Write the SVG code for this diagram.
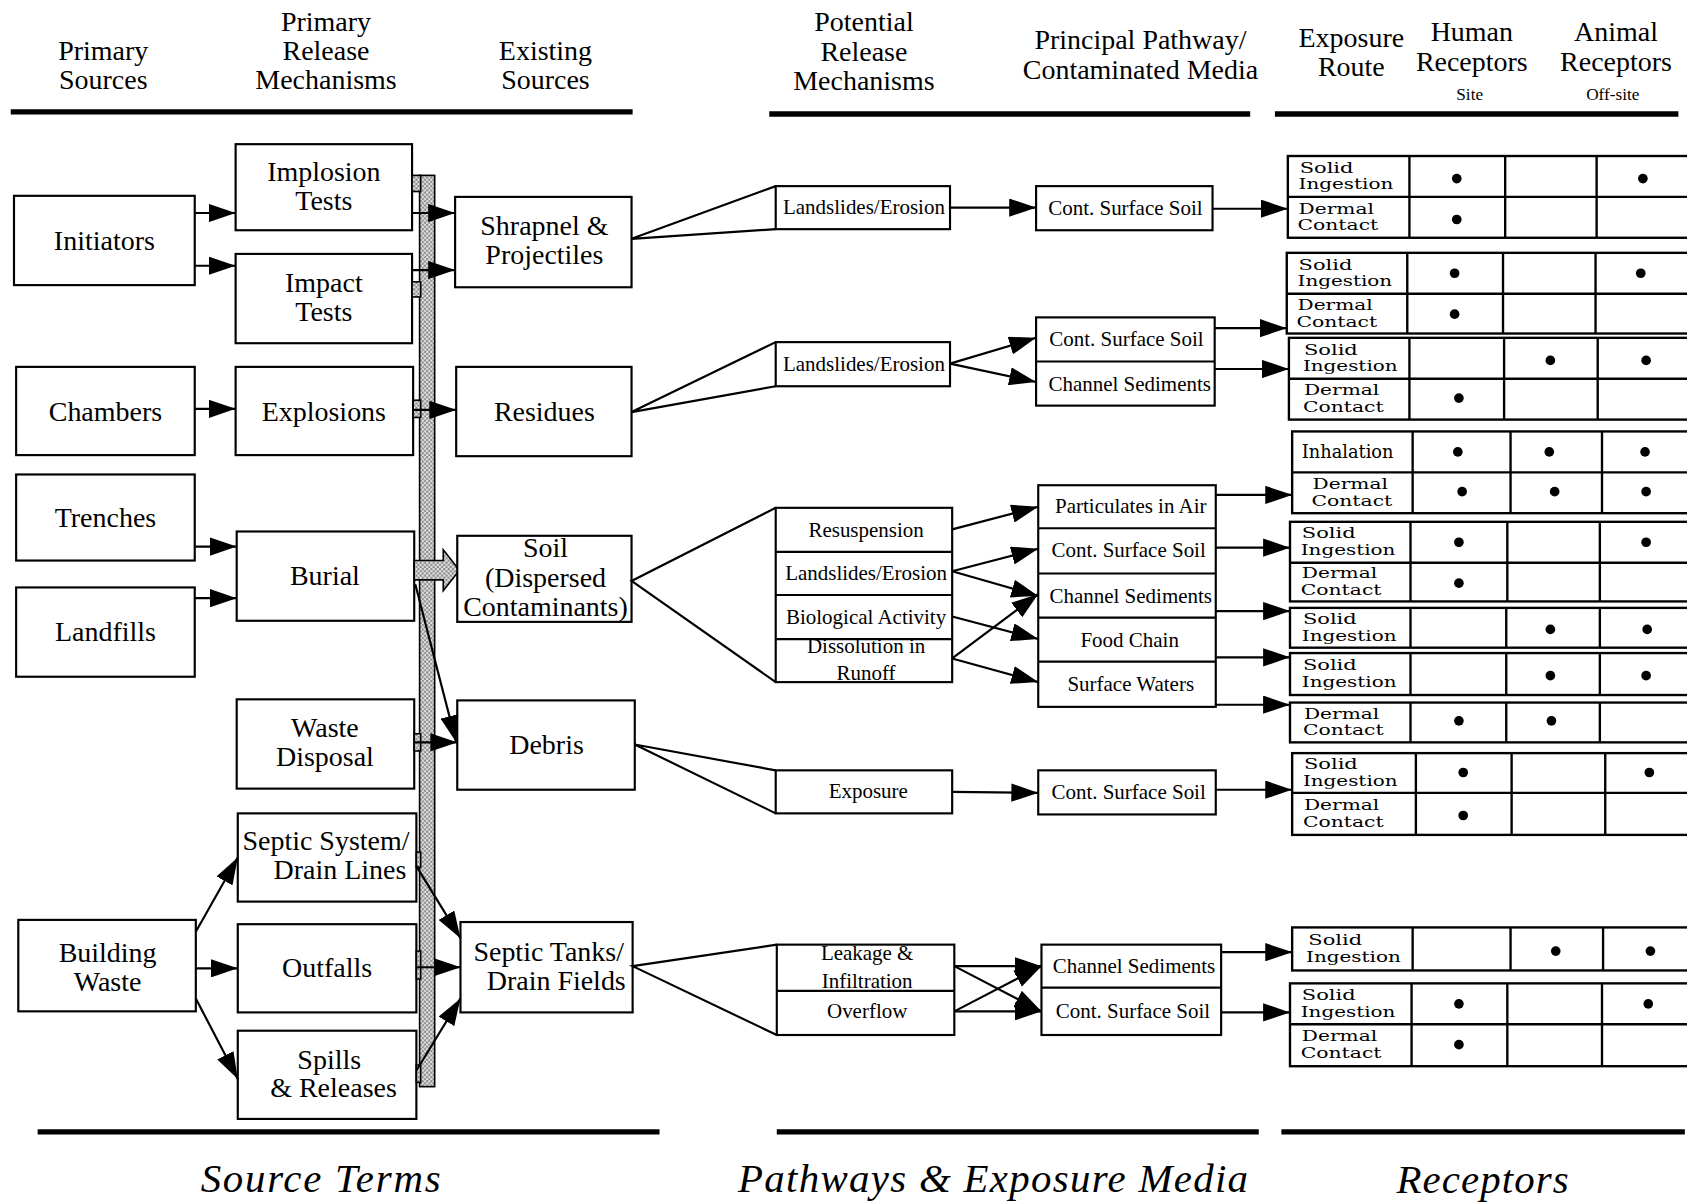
<svg xmlns="http://www.w3.org/2000/svg" width="1687" height="1202" viewBox="0 0 1687 1202">
<defs>
<style>
.b{fill:#fff;stroke:#000;stroke-width:2}
.t{font-family:"Liberation Serif","Times New Roman",serif;font-size:26px;text-anchor:middle;fill:#000}
.m{font-size:19.5px}
.sm{font-size:16px}
.r{font-family:"DejaVu Serif",serif;font-size:16.5px;fill:#000}
.q{font-family:"DejaVu Serif",serif;font-size:13.5px;fill:#000}
.l{stroke:#000;stroke-width:2;fill:none}
.a{marker-end:url(#ah)}
.k{stroke:#000;stroke-width:5}
.g{fill:none;stroke:#000;stroke-width:2.2}
.it{font-family:"Liberation Serif","Times New Roman",serif;font-style:italic;font-size:38px;text-anchor:middle;fill:#000}
.st{fill:url(#stip);stroke:#000;stroke-width:1.5}
.d{fill:#000}
</style>
<marker id="ah" markerUnits="userSpaceOnUse" markerWidth="25" markerHeight="17" refX="25" refY="8.5" orient="auto" viewBox="0 0 25 17"><path d="M0,0 L25,8.5 L0,17 z" fill="#000"/></marker>
<pattern id="stip" width="4" height="4" patternUnits="userSpaceOnUse"><rect width="4" height="4" fill="#e4e4e4"/><rect width="2" height="2" fill="#8a8a8a"/><rect x="2" y="2" width="2" height="2" fill="#8a8a8a"/></pattern>
</defs>
<rect width="1687" height="1202" fill="#fff"/>
<g transform="scale(1.075893)">

<g id="headers">
<text class="t" x="96" y="56">Primary</text><text class="t" x="96" y="83">Sources</text>
<text class="t" x="303" y="29">Primary</text><text class="t" x="303" y="56">Release</text><text class="t" x="303" y="83">Mechanisms</text>
<text class="t" x="507" y="56">Existing</text><text class="t" x="507" y="83">Sources</text>
<text class="t" x="803" y="29">Potential</text><text class="t" x="803" y="57">Release</text><text class="t" x="803" y="84">Mechanisms</text>
<text class="t" x="1060" y="46">Principal Pathway/</text><text class="t" x="1060" y="73">Contaminated Media</text>
<text class="t" x="1256" y="44">Exposure</text><text class="t" x="1256" y="71">Route</text>
<text class="t" x="1368" y="38">Human</text><text class="t" x="1368" y="66">Receptors</text><text class="t sm" x="1366" y="93">Site</text>
<text class="t" x="1502" y="38">Animal</text><text class="t" x="1502" y="66">Receptors</text><text class="t sm" x="1499" y="93">Off-site</text>
<line class="k" x1="10" y1="104" x2="588" y2="104"/>
<line class="k" x1="715" y1="106" x2="1162" y2="106"/>
<line class="k" x1="1185" y1="106" x2="1560" y2="106"/>
<line class="k" x1="35" y1="1052" x2="613" y2="1052"/>
<line class="k" x1="722" y1="1052" x2="1170" y2="1052"/>
<line class="k" x1="1191" y1="1052" x2="1566" y2="1052"/>
<text class="it" x="298" y="1108" textLength="223" lengthAdjust="spacing">Source Terms</text>
<text class="it" x="923" y="1108" textLength="474" lengthAdjust="spacing">Pathways &amp; Exposure Media</text>
<text class="it" x="1378" y="1109" textLength="160" lengthAdjust="spacing">Receptors</text>
</g>

<g id="n-initiators"><rect class="b" x="13" y="182" width="168" height="83"/><text class="t" x="97" y="232">Initiators</text></g>
<g id="n-implosion"><rect class="b" x="219" y="134" width="164" height="80"/><text class="t" x="301" y="168">Implosion</text><text class="t" x="301" y="195">Tests</text></g>
<g id="n-impact"><rect class="b" x="219" y="236" width="164" height="83"/><text class="t" x="301" y="271">Impact</text><text class="t" x="301" y="298">Tests</text></g>
<g id="n-chambers"><rect class="b" x="15" y="341" width="166" height="82"/><text class="t" x="98" y="391">Chambers</text></g>
<g id="n-explosions"><rect class="b" x="219" y="341" width="165" height="82"/><text class="t" x="301" y="391">Explosions</text></g>
<g id="n-trenches"><rect class="b" x="15" y="441" width="166" height="80"/><text class="t" x="98" y="490">Trenches</text></g>
<g id="n-landfills"><rect class="b" x="15" y="546" width="166" height="83"/><text class="t" x="98" y="596">Landfills</text></g>
<g id="n-burial"><rect class="b" x="220" y="494" width="165" height="83"/><text class="t" x="302" y="544">Burial</text></g>
<g id="n-waste"><rect class="b" x="220" y="650" width="165" height="83"/><text class="t" x="302" y="685">Waste</text><text class="t" x="302" y="712">Disposal</text></g>
<g id="n-septicsys"><rect class="b" x="221" y="756" width="166" height="82"/><text class="t" x="303" y="790">Septic System/</text><text class="t" x="316" y="817">Drain Lines</text></g>
<g id="n-outfalls"><rect class="b" x="221" y="859" width="166" height="82"/><text class="t" x="304" y="908">Outfalls</text></g>
<g id="n-spills"><rect class="b" x="221" y="958" width="166" height="82"/><text class="t" x="306" y="994">Spills</text><text class="t" x="310" y="1020">&amp; Releases</text></g>
<g id="n-building"><rect class="b" x="17" y="855" width="165" height="85"/><text class="t" x="100" y="894">Building</text><text class="t" x="100" y="921">Waste</text></g>

<g id="n-bar">
<rect class="st" x="390" y="163" width="14" height="847"/>
<rect class="st" x="383" y="163" width="8" height="15"/>
<rect class="st" x="383" y="262" width="8" height="14"/>
<rect class="st" x="384" y="372" width="7" height="16"/>
<rect class="st" x="385" y="682" width="6" height="16"/>
<rect class="st" x="387" y="792" width="4" height="14"/>
<rect class="st" x="387" y="884" width="4" height="26"/>
<rect class="st" x="387" y="990" width="4" height="16"/>
<polygon class="st" points="385,521 412,521 412,511 427,530 412,549 412,539 385,539"/>
</g>

<g id="n-shrapnel"><rect class="b" x="423" y="183" width="164" height="84"/><text class="t" x="506" y="218">Shrapnel &amp;</text><text class="t" x="506" y="245">Projectiles</text></g>
<g id="n-residues"><rect class="b" x="424" y="341" width="163" height="83"/><text class="t" x="506" y="391">Residues</text></g>
<g id="n-soil"><rect class="b" x="425" y="498" width="162" height="80"/><text class="t" x="507" y="518">Soil</text><text class="t" x="507" y="546">(Dispersed</text><text class="t" x="507" y="573">Contaminants)</text></g>
<g id="n-debris"><rect class="b" x="425" y="651" width="165" height="83"/><text class="t" x="508" y="701">Debris</text></g>
<g id="n-septictanks"><rect class="b" x="428" y="857" width="160" height="84"/><text class="t" x="510" y="893">Septic Tanks/</text><text class="t" x="517" y="920">Drain Fields</text></g>

<g id="n-le1"><rect class="b" x="721" y="173" width="162" height="40"/><text class="t m" x="803" y="199">Landslides/Erosion</text></g>
<g id="n-le2"><rect class="b" x="721" y="318" width="162" height="41"/><text class="t m" x="803" y="345">Landslides/Erosion</text></g>
<g id="n-mech3">
<rect class="b" x="721" y="472" width="164" height="162"/>
<line class="l" x1="721" y1="513" x2="885" y2="513"/><line class="l" x1="721" y1="553" x2="885" y2="553"/><line class="l" x1="721" y1="594" x2="885" y2="594"/>
<text class="t m" x="805" y="499">Resuspension</text>
<text class="t m" x="805" y="539">Landslides/Erosion</text>
<text class="t m" x="805" y="580">Biological Activity</text>
<text class="t m" x="805" y="607">Dissolution in</text>
<text class="t m" x="805" y="632">Runoff</text>
</g>
<g id="n-exposure"><rect class="b" x="721" y="716" width="164" height="40"/><text class="t m" x="807" y="742">Exposure</text></g>
<g id="n-mech5">
<rect class="b" x="722" y="878" width="165" height="84"/>
<line class="l" x1="722" y1="921" x2="887" y2="921"/>
<text class="t m" x="806" y="892">Leakage &amp;</text>
<text class="t m" x="806" y="918">Infiltration</text>
<text class="t m" x="806" y="946">Overflow</text>
</g>

<g id="n-css1"><rect class="b" x="963" y="173" width="164" height="41"/><text class="t m" x="1046" y="200">Cont. Surface Soil</text></g>
<g id="n-media2">
<rect class="b" x="963" y="295" width="166" height="82"/>
<line class="l" x1="963" y1="336" x2="1129" y2="336"/>
<text class="t m" x="1047" y="322">Cont. Surface Soil</text>
<text class="t m" x="1050" y="363">Channel Sediments</text>
</g>
<g id="n-media3">
<rect class="b" x="965" y="451" width="165" height="206"/>
<line class="l" x1="965" y1="491" x2="1130" y2="491"/><line class="l" x1="965" y1="533" x2="1130" y2="533"/><line class="l" x1="965" y1="574" x2="1130" y2="574"/><line class="l" x1="965" y1="615" x2="1130" y2="615"/>
<text class="t m" x="1051" y="477">Particulates in Air</text>
<text class="t m" x="1049" y="518">Cont. Surface Soil</text>
<text class="t m" x="1051" y="560">Channel Sediments</text>
<text class="t m" x="1050" y="601">Food Chain</text>
<text class="t m" x="1051" y="642">Surface Waters</text>
</g>
<g id="n-css4"><rect class="b" x="965" y="716" width="165" height="41"/><text class="t m" x="1049" y="743">Cont. Surface Soil</text></g>
<g id="n-media5">
<rect class="b" x="968" y="878" width="167" height="84"/>
<line class="l" x1="968" y1="918" x2="1135" y2="918"/>
<text class="t m" x="1054" y="904">Channel Sediments</text>
<text class="t m" x="1053" y="946">Cont. Surface Soil</text>
</g>

<g id="connectors">
<line class="l a" x1="181" y1="198" x2="219" y2="198"/>
<line class="l a" x1="181" y1="247" x2="219" y2="247"/>
<line class="l a" x1="181" y1="380" x2="219" y2="380"/>
<line class="l a" x1="181" y1="508" x2="220" y2="508"/>
<line class="l a" x1="181" y1="556" x2="220" y2="556"/>
<line class="l a" x1="182" y1="866" x2="221" y2="797"/>
<line class="l a" x1="182" y1="900" x2="221" y2="900"/>
<line class="l a" x1="182" y1="928" x2="221" y2="1003"/>
<line class="l a" x1="383" y1="198" x2="423" y2="198"/>
<line class="l a" x1="383" y1="251" x2="423" y2="251"/>
<line class="l a" x1="384" y1="381" x2="424" y2="381"/>
<line class="l a" x1="386" y1="543" x2="424" y2="690"/>
<line class="l a" x1="385" y1="690" x2="425" y2="690"/>
<line class="l a" x1="387" y1="805" x2="428" y2="872"/>
<line class="l a" x1="387" y1="899" x2="428" y2="899"/>
<line class="l a" x1="387" y1="995" x2="428" y2="928"/>
<polyline class="l" points="721,173 587,222 721,213"/>
<polyline class="l" points="721,318 587,383 721,359"/>
<polyline class="l" points="721,472 587,540 721,634"/>
<polyline class="l" points="721,716 590,692 721,756"/>
<polyline class="l" points="722,878 588,898 722,962"/>
<line class="l a" x1="883" y1="193" x2="963" y2="193"/>
<line class="l a" x1="883" y1="338" x2="963" y2="314"/>
<line class="l a" x1="883" y1="338" x2="963" y2="355"/>
<line class="l a" x1="885" y1="492" x2="965" y2="471"/>
<line class="l a" x1="885" y1="531" x2="965" y2="510"/>
<line class="l a" x1="885" y1="531" x2="965" y2="554"/>
<line class="l a" x1="885" y1="573" x2="965" y2="594"/>
<line class="l a" x1="885" y1="612" x2="965" y2="552"/>
<line class="l a" x1="885" y1="612" x2="965" y2="634"/>
<line class="l a" x1="885" y1="736" x2="965" y2="737"/>
<line class="l a" x1="887" y1="898" x2="968" y2="898"/>
<line class="l a" x1="887" y1="898" x2="968" y2="940"/>
<line class="l a" x1="887" y1="940" x2="968" y2="940"/>
<line class="l a" x1="887" y1="940" x2="968" y2="898"/>
<line class="l a" x1="1127" y1="194" x2="1197" y2="194"/>
<line class="l a" x1="1129" y1="305" x2="1196" y2="305"/>
<line class="l a" x1="1129" y1="343" x2="1198" y2="343"/>
<line class="l a" x1="1130" y1="460" x2="1201" y2="460"/>
<line class="l a" x1="1130" y1="509" x2="1199" y2="509"/>
<line class="l a" x1="1130" y1="568" x2="1199" y2="568"/>
<line class="l a" x1="1130" y1="611" x2="1199" y2="611"/>
<line class="l a" x1="1130" y1="655" x2="1199" y2="655"/>
<line class="l a" x1="1130" y1="734" x2="1201" y2="734"/>
<line class="l a" x1="1135" y1="885" x2="1201" y2="885"/>
<line class="l a" x1="1135" y1="941" x2="1199" y2="941"/>
</g>

<g id="t1">
<rect class="g" x="1197" y="145" width="383" height="76"/>
<line class="g" x1="1197" y1="183" x2="1580" y2="183"/>
<line class="g" x1="1310" y1="145" x2="1310" y2="221"/><line class="g" x1="1399" y1="145" x2="1399" y2="221"/><line class="g" x1="1484" y1="145" x2="1484" y2="221"/>
<text class="q" x="1208" y="160.5" textLength="50" lengthAdjust="spacingAndGlyphs">Solid</text><text class="q" x="1207" y="176" textLength="88" lengthAdjust="spacingAndGlyphs">Ingestion</text>
<text class="q" x="1207" y="198.5" textLength="70" lengthAdjust="spacingAndGlyphs">Dermal</text><text class="q" x="1206" y="214" textLength="75" lengthAdjust="spacingAndGlyphs">Contact</text>
<circle class="d" cx="1354" cy="166" r="4.5"/><circle class="d" cx="1527" cy="166" r="4.5"/><circle class="d" cx="1354" cy="204" r="4.5"/>
</g>
<g id="t2">
<rect class="g" x="1196" y="235" width="384" height="75"/>
<line class="g" x1="1196" y1="273" x2="1580" y2="273"/>
<line class="g" x1="1308" y1="235" x2="1308" y2="310"/><line class="g" x1="1397" y1="235" x2="1397" y2="310"/><line class="g" x1="1483" y1="235" x2="1483" y2="310"/>
<text class="q" x="1207" y="250.5" textLength="50" lengthAdjust="spacingAndGlyphs">Solid</text><text class="q" x="1206" y="266" textLength="88" lengthAdjust="spacingAndGlyphs">Ingestion</text>
<text class="q" x="1206" y="288" textLength="70" lengthAdjust="spacingAndGlyphs">Dermal</text><text class="q" x="1205" y="303.5" textLength="75" lengthAdjust="spacingAndGlyphs">Contact</text>
<circle class="d" cx="1352" cy="254" r="4.5"/><circle class="d" cx="1525" cy="254" r="4.5"/><circle class="d" cx="1352" cy="292" r="4.5"/>
</g>
<g id="t3">
<rect class="g" x="1198" y="314" width="382" height="76"/>
<line class="g" x1="1198" y1="352" x2="1580" y2="352"/>
<line class="g" x1="1310" y1="314" x2="1310" y2="390"/><line class="g" x1="1398" y1="314" x2="1398" y2="390"/><line class="g" x1="1485" y1="314" x2="1485" y2="390"/>
<text class="q" x="1212" y="329.5" textLength="50" lengthAdjust="spacingAndGlyphs">Solid</text><text class="q" x="1211" y="345" textLength="88" lengthAdjust="spacingAndGlyphs">Ingestion</text>
<text class="q" x="1212" y="367.5" textLength="70" lengthAdjust="spacingAndGlyphs">Dermal</text><text class="q" x="1211" y="383" textLength="75" lengthAdjust="spacingAndGlyphs">Contact</text>
<circle class="d" cx="1441" cy="335" r="4.5"/><circle class="d" cx="1530" cy="335" r="4.5"/><circle class="d" cx="1356" cy="370" r="4.5"/>
</g>
<g id="t4">
<rect class="g" x="1201" y="401" width="379" height="76"/>
<line class="g" x1="1201" y1="439" x2="1580" y2="439"/>
<line class="g" x1="1313" y1="401" x2="1313" y2="477"/><line class="g" x1="1404" y1="401" x2="1404" y2="477"/><line class="g" x1="1489" y1="401" x2="1489" y2="477"/>
<text class="r" x="1210" y="426">Inhalation</text>
<text class="q" x="1220" y="454.5" textLength="70" lengthAdjust="spacingAndGlyphs">Dermal</text><text class="q" x="1219" y="470" textLength="75" lengthAdjust="spacingAndGlyphs">Contact</text>
<circle class="d" cx="1355" cy="420" r="4.5"/><circle class="d" cx="1440" cy="420" r="4.5"/><circle class="d" cx="1529" cy="420" r="4.5"/>
<circle class="d" cx="1359" cy="457" r="4.5"/><circle class="d" cx="1445" cy="457" r="4.5"/><circle class="d" cx="1530" cy="457" r="4.5"/>
</g>
<g id="t5">
<rect class="g" x="1199" y="485" width="381" height="74"/>
<line class="g" x1="1199" y1="523" x2="1580" y2="523"/>
<line class="g" x1="1311" y1="485" x2="1311" y2="559"/><line class="g" x1="1401" y1="485" x2="1401" y2="559"/><line class="g" x1="1487" y1="485" x2="1487" y2="559"/>
<text class="q" x="1210" y="500.5" textLength="50" lengthAdjust="spacingAndGlyphs">Solid</text><text class="q" x="1209" y="516" textLength="88" lengthAdjust="spacingAndGlyphs">Ingestion</text>
<text class="q" x="1210" y="537.5" textLength="70" lengthAdjust="spacingAndGlyphs">Dermal</text><text class="q" x="1209" y="553" textLength="75" lengthAdjust="spacingAndGlyphs">Contact</text>
<circle class="d" cx="1356" cy="504" r="4.5"/><circle class="d" cx="1530" cy="504" r="4.5"/><circle class="d" cx="1356" cy="542" r="4.5"/>
</g>
<g id="t6">
<rect class="g" x="1199" y="565" width="381" height="37"/>
<line class="g" x1="1311" y1="565" x2="1311" y2="602"/><line class="g" x1="1400" y1="565" x2="1400" y2="602"/><line class="g" x1="1487" y1="565" x2="1487" y2="602"/>
<text class="q" x="1211" y="580" textLength="50" lengthAdjust="spacingAndGlyphs">Solid</text><text class="q" x="1210" y="595.5" textLength="88" lengthAdjust="spacingAndGlyphs">Ingestion</text>
<circle class="d" cx="1441" cy="585" r="4.5"/><circle class="d" cx="1531" cy="585" r="4.5"/>
</g>
<g id="t7">
<rect class="g" x="1199" y="607" width="381" height="39"/>
<line class="g" x1="1311" y1="607" x2="1311" y2="646"/><line class="g" x1="1400" y1="607" x2="1400" y2="646"/><line class="g" x1="1487" y1="607" x2="1487" y2="646"/>
<text class="q" x="1211" y="623" textLength="50" lengthAdjust="spacingAndGlyphs">Solid</text><text class="q" x="1210" y="638.5" textLength="88" lengthAdjust="spacingAndGlyphs">Ingestion</text>
<circle class="d" cx="1441" cy="628" r="4.5"/><circle class="d" cx="1530" cy="628" r="4.5"/>
</g>
<g id="t8">
<rect class="g" x="1199" y="653" width="381" height="37"/>
<line class="g" x1="1311" y1="653" x2="1311" y2="690"/><line class="g" x1="1400" y1="653" x2="1400" y2="690"/><line class="g" x1="1487" y1="653" x2="1487" y2="690"/>
<text class="q" x="1212" y="668" textLength="70" lengthAdjust="spacingAndGlyphs">Dermal</text><text class="q" x="1211" y="683.5" textLength="75" lengthAdjust="spacingAndGlyphs">Contact</text>
<circle class="d" cx="1356" cy="670" r="4.5"/><circle class="d" cx="1442" cy="670" r="4.5"/>
</g>
<g id="t9">
<rect class="g" x="1201" y="700" width="379" height="76"/>
<line class="g" x1="1201" y1="737" x2="1580" y2="737"/>
<line class="g" x1="1316" y1="700" x2="1316" y2="776"/><line class="g" x1="1405" y1="700" x2="1405" y2="776"/><line class="g" x1="1492" y1="700" x2="1492" y2="776"/>
<text class="q" x="1212" y="715" textLength="50" lengthAdjust="spacingAndGlyphs">Solid</text><text class="q" x="1211" y="730.5" textLength="88" lengthAdjust="spacingAndGlyphs">Ingestion</text>
<text class="q" x="1212" y="753" textLength="70" lengthAdjust="spacingAndGlyphs">Dermal</text><text class="q" x="1211" y="768.5" textLength="75" lengthAdjust="spacingAndGlyphs">Contact</text>
<circle class="d" cx="1360" cy="718" r="4.5"/><circle class="d" cx="1533" cy="718" r="4.5"/><circle class="d" cx="1360" cy="758" r="4.5"/>
</g>
<g id="t10">
<rect class="g" x="1201" y="862" width="379" height="40"/>
<line class="g" x1="1313" y1="862" x2="1313" y2="902"/><line class="g" x1="1404" y1="862" x2="1404" y2="902"/><line class="g" x1="1490" y1="862" x2="1490" y2="902"/>
<text class="q" x="1216" y="878.5" textLength="50" lengthAdjust="spacingAndGlyphs">Solid</text><text class="q" x="1214" y="894" textLength="88" lengthAdjust="spacingAndGlyphs">Ingestion</text>
<circle class="d" cx="1446" cy="884" r="4.5"/><circle class="d" cx="1534" cy="884" r="4.5"/>
</g>
<g id="t11">
<rect class="g" x="1199" y="914" width="381" height="77"/>
<line class="g" x1="1199" y1="952" x2="1580" y2="952"/>
<line class="g" x1="1312" y1="914" x2="1312" y2="991"/><line class="g" x1="1401" y1="914" x2="1401" y2="991"/><line class="g" x1="1489" y1="914" x2="1489" y2="991"/>
<text class="q" x="1210" y="929.5" textLength="50" lengthAdjust="spacingAndGlyphs">Solid</text><text class="q" x="1209" y="945" textLength="88" lengthAdjust="spacingAndGlyphs">Ingestion</text>
<text class="q" x="1210" y="968" textLength="70" lengthAdjust="spacingAndGlyphs">Dermal</text><text class="q" x="1209" y="983.5" textLength="75" lengthAdjust="spacingAndGlyphs">Contact</text>
<circle class="d" cx="1356" cy="933" r="4.5"/><circle class="d" cx="1532" cy="933" r="4.5"/><circle class="d" cx="1356" cy="971" r="4.5"/>
</g>

</g>
</svg>
